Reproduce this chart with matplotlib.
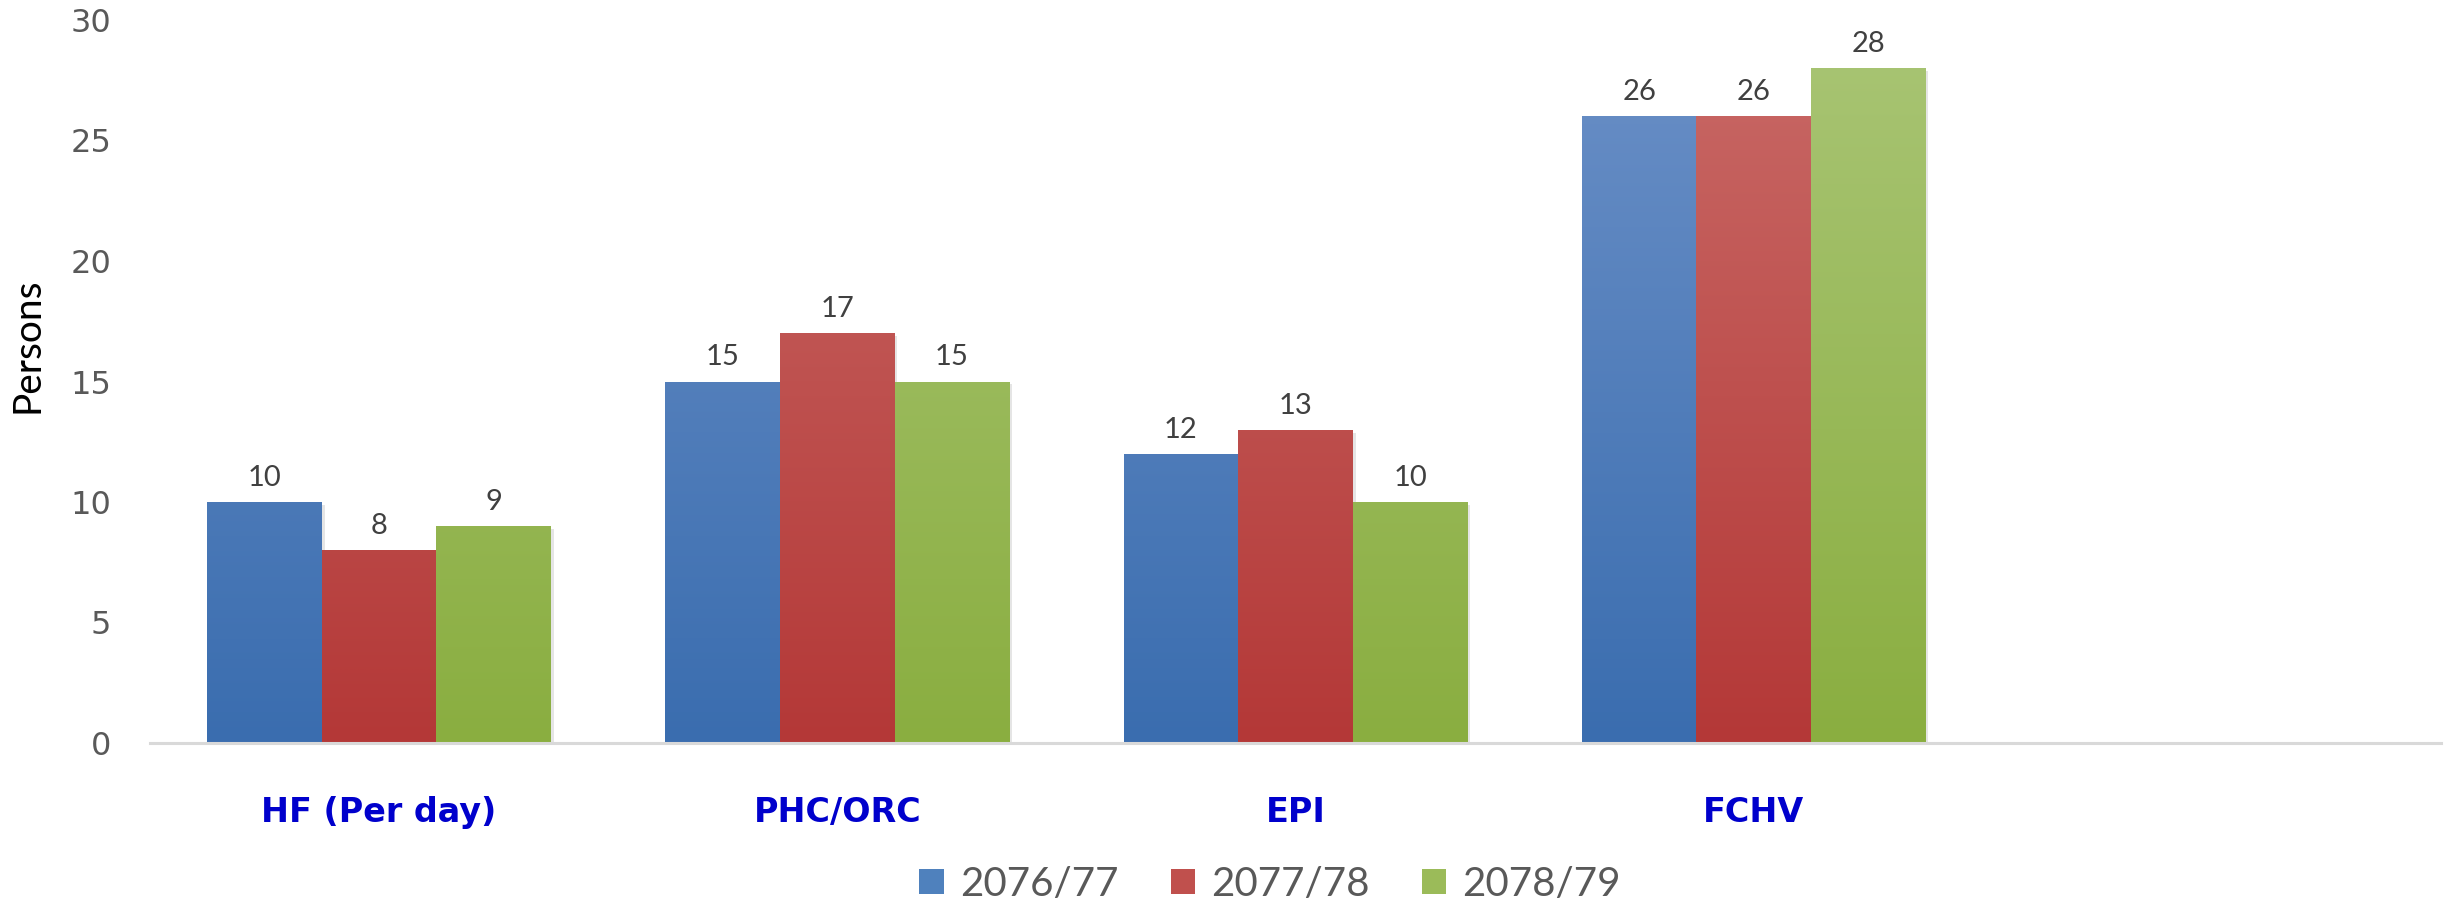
import numpy as np
import matplotlib
matplotlib.use("Agg")
import matplotlib.pyplot as plt
from matplotlib.patches import Patch
from matplotlib.colors import LinearSegmentedColormap

categories = ["HF (Per day)", "PHC/ORC", "EPI", "FCHV", ""]
series_names = ["2076/77", "2077/78", "2078/79"]
v2076 = [10, 15, 12, 26, None]
v2077 = [8, 17, 13, 26, None]
v2078 = [9, 15, 10, 28, None]
yticks = [0, 5, 10, 15, 20, 25, 30]

series = [v2076, v2077, v2078]
grad = [("#3A6DAF", "#6B90C7"), ("#B43837", "#C96A67"), ("#8AAE40", "#A9C575")]
mid = ["#4F81BD", "#C0504D", "#9BBB59"]

fig = plt.figure(figsize=(24.47, 9.06), dpi=100)
ax = fig.add_axes([150/2447, 163/906, (2441-150)/2447, (743-20)/906])

x = np.arange(len(categories))
w = 0.25
ymax = 30
for i, (vals, (c0, c1)) in enumerate(zip(series, grad)):
    xs = [xi + (i - 1) * w for xi, v in zip(x, vals) if v is not None]
    hs = [v for v in vals if v is not None]
    bars = ax.bar(xs, hs, width=w, color=mid[i], zorder=2)
    cmap = LinearSegmentedColormap.from_list("g%d" % i, [c0, c1])
    for b, h in zip(bars, hs):
        x0 = b.get_x()
        ax.bar(x0 + b.get_width() / 2 + 0.006, h, width=w, bottom=-0.12,
               color="#000000", alpha=0.10, zorder=1, linewidth=0)
        b.set_facecolor("none")
        g = np.linspace(0, 1, 256).reshape(-1, 1)
        im = ax.imshow(g, extent=[x0, x0 + b.get_width(), 0, ymax], origin="lower",
                       cmap=cmap, aspect="auto", zorder=2, vmin=0, vmax=1)
        im.set_clip_path(b)
        ax.annotate(str(h), (x0 + b.get_width() / 2, h), xytext=(0, 8),
                    textcoords="offset points", ha="center", va="bottom",
                    fontsize=21, color="#404040", family="Lato")

ax.set_xlim(-0.5, len(categories) - 0.5)
ax.set_ylim(0, ymax)
ax.set_yticks(yticks)
ax.set_yticklabels([str(t) for t in yticks], fontsize=23, color="#595959",
                   family="DejaVu Sans")
ax.set_xticks(x)
ax.set_xticklabels(categories, fontsize=24, color="#0000CC", fontweight="bold",
                   family="DejaVu Sans")
ax.tick_params(axis="y", length=0, pad=28)
ax.tick_params(axis="x", length=0, pad=38)
for s in ["top", "right", "left"]:
    ax.spines[s].set_visible(False)
ax.spines["bottom"].set_color("#D9D9D9")
ax.spines["bottom"].set_linewidth(2.2)
ax.spines["bottom"].set_zorder(3)

fig.text(28/2447, 1 - 345/906, "Persons", rotation=90, ha="center", va="center",
         fontsize=28, color="#000000", family="Lato")

handles = [Patch(facecolor=c, edgecolor="none") for c in mid]
fig.legend(handles, series_names, loc="center", bbox_to_anchor=(1270/2447, 1 - 884/906),
           ncol=3, frameon=False, prop={"family": "Lato", "size": 29},
           labelcolor="#595959", handlelength=0.6, handleheight=0.6,
           handletextpad=0.4, columnspacing=1.3)

fig.savefig("out.png", dpi=100)
